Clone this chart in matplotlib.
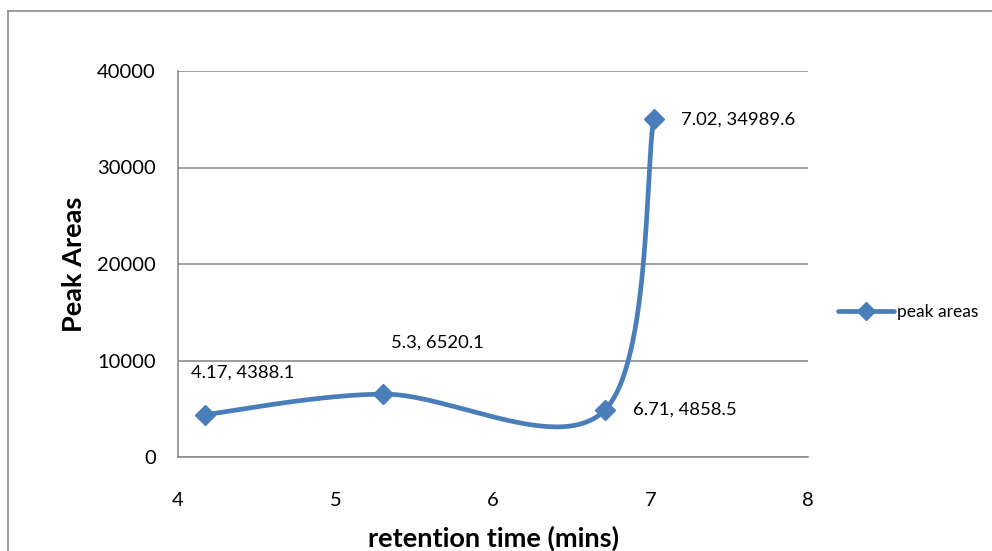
import numpy as np
import matplotlib.pyplot as plt
from matplotlib.lines import Line2D

plt.rcParams['font.family'] = ['Lato', 'DejaVu Sans']

# retention time (mins) vs peak area
ret_time = [4.17, 5.3, 6.71, 7.02]
peak_area = [4388.1, 6520.1, 4858.5, 34989.6]
series_name = 'peak areas'

BLUE = '#4A7EBB'
GRID = '#8C8C8C'


def smooth_curve(xs, ys, n=60):
    """bezier smoothing like a spreadsheet 'smoothed line' (1/6 tangents)"""
    p = np.column_stack([xs, ys]).astype(float)
    pts = []
    for i in range(len(p) - 1):
        p0 = p[i - 1] if i > 0 else p[i]
        p1, p2 = p[i], p[i + 1]
        p3 = p[i + 2] if i + 2 < len(p) else p[i + 1]
        c1 = p1 + (p2 - p0) / 6
        c2 = p2 - (p3 - p1) / 6
        t = np.linspace(0, 1, n)[:, None]
        seg = ((1 - t) ** 3) * p1 + 3 * ((1 - t) ** 2) * t * c1 + 3 * (1 - t) * t ** 2 * c2 + t ** 3 * p2
        pts.append(seg if i == 0 else seg[1:])
    pts = np.vstack(pts)
    return pts[:, 0], pts[:, 1]


fig = plt.figure(figsize=(9.92, 5.51), dpi=100)
ax = fig.add_axes([178 / 992, 1 - 457 / 551, 630 / 992, 386 / 551])

sx, sy = smooth_curve(ret_time, peak_area)
ax.plot(sx, sy, color=BLUE, lw=3.4, solid_capstyle='round', zorder=3)
ax.plot(ret_time, peak_area, ls='none', marker='D', ms=10, color=BLUE, zorder=4)

ax.set_xlim(4, 8)
ax.set_ylim(0, 40000)
ax.set_xticks([4, 5, 6, 7, 8])
ax.set_yticks(np.arange(0, 40001, 10000))
ax.grid(axis='y', color=GRID, lw=1.2)
ax.set_axisbelow(True)
for side in ['top', 'right']:
    ax.spines[side].set_visible(False)
for side in ['left', 'bottom']:
    ax.spines[side].set_color(GRID)
    ax.spines[side].set_linewidth(1.2)
ax.tick_params(length=0, labelsize=14.5, colors='black')
ax.tick_params(axis='x', pad=25)
ax.tick_params(axis='y', pad=16)

ax.set_xlabel('retention time (mins)', fontsize=19.5, fontweight='bold', labelpad=12)
ax.set_ylabel('Peak Areas', fontsize=19.5, fontweight='bold', labelpad=8)

# data labels "x, y"
offsets = [(-10, 30), (6, 37), (20, 0), (20, 0)]
for x, y, off in zip(ret_time, peak_area, offsets):
    ax.annotate(f'{x:g}, {y:g}', (x, y), xytext=off, textcoords='offset points',
                ha='left', va='center', fontsize=13.3)

handle = Line2D([], [], color=BLUE, lw=3.4, marker='D', ms=9, solid_capstyle='round')
fig.legend([handle], [series_name], loc='center left', bbox_to_anchor=(831 / 992, 1 - 312 / 551),
           frameon=False, fontsize=12.5, handlelength=3.2, handletextpad=0.2, borderaxespad=0)

# chart border (only left/top visible in the frame)
fig.add_artist(Line2D([8 / 992, 8 / 992], [0, 1 - 11 / 551], color=GRID, lw=1.2))
fig.add_artist(Line2D([8 / 992, 1], [1 - 11 / 551, 1 - 11 / 551], color=GRID, lw=1.2))

fig.savefig('out.png', dpi=100)
